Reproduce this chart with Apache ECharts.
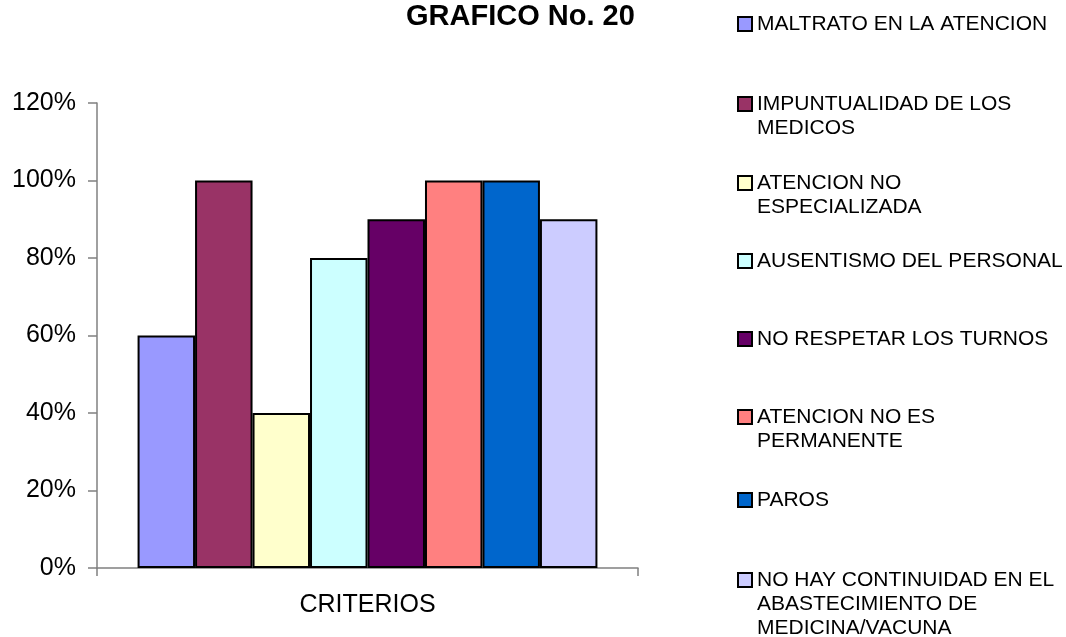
<!DOCTYPE html>
<html>
<head>
<meta charset="utf-8">
<script src="https://cdn.jsdelivr.net/npm/echarts@6/dist/echarts.min.js"></script>
<style>
  html, body { margin: 0; padding: 0; background: #fff; }
  #chart { width: 1066px; height: 637px; }
</style>
</head>
<body>
<div id="chart"></div>
<script>
// datos del grafico
const categories = ['CRITERIOS'];
const seriesNames = [
  'MALTRATO EN LA ATENCION',
  'IMPUNTUALIDAD DE LOS MEDICOS',
  'ATENCION NO ESPECIALIZADA',
  'AUSENTISMO DEL PERSONAL',
  'NO RESPETAR LOS TURNOS',
  'ATENCION NO ES PERMANENTE',
  'PAROS',
  'NO HAY CONTINUIDAD EN EL ABASTECIMIENTO DE MEDICINA/VACUNA'
];
const seriesValues = [60, 100, 40, 80, 90, 100, 100, 90];
// texto de la leyenda partido en lineas
const legendLines = [
  ['MALTRATO EN LA ATENCION'],
  ['IMPUNTUALIDAD DE LOS', 'MEDICOS'],
  ['ATENCION NO', 'ESPECIALIZADA'],
  ['AUSENTISMO DEL PERSONAL'],
  ['NO RESPETAR LOS TURNOS'],
  ['ATENCION NO ES', 'PERMANENTE'],
  ['PAROS'],
  ['NO HAY CONTINUIDAD EN EL', 'ABASTECIMIENTO DE', 'MEDICINA/VACUNA']
];

const colors = ['#9999FF', '#993366', '#FFFFCC', '#CCFFFF', '#660066', '#FF8080', '#0066CC', '#CCCCFF'];
const legendCenters = [24, 104, 183, 261, 339, 417, 500, 580];
const LH = 24;

let chart = echarts.init(document.getElementById('chart'));

//una leyenda por serie, el icono alineado con la primera linea
let legends = seriesNames.map((name, i) => {
  let n = legendLines[i].length;
  return {
    data: [name],
    orient: 'vertical',
    left: 737,
    top: legendCenters[i] - (2 * n - 1) * LH / 2,
    padding: 0,
    itemWidth: 14,
    itemHeight: 14,
    selectedMode: false,
    icon: 'rect',
    itemStyle: { borderColor: '#000', borderWidth: 2 },
    formatter: () => ' \n'.repeat(n - 1) + legendLines[i].join('\n'),
    textStyle: {
      fontFamily: 'Liberation Sans, Arial, sans-serif',
      fontSize: 21,
      lineHeight: LH,
      color: '#000'
    }
  };
});

let option = {
  animation: false,
  backgroundColor: '#fff',
  color: colors,
  title: {
    text: 'GRAFICO No. 20',
    left: 406,
    top: 2,
    padding: 0,
    textStyle: {
      fontFamily: 'Liberation Sans, Arial, sans-serif',
      fontSize: 29,
      fontWeight: 'bold',
      color: '#000'
    }
  },
  legend: legends,
  grid: {
    left: 97,
    right: 428,
    top: 103,
    bottom: 69,
    containLabel: false
  },
  xAxis: {
    type: 'category',
    data: categories,
    axisLine: { lineStyle: { color: '#808080', width: 1.5 } },
    axisTick: { show: true, length: 8, lineStyle: { color: '#808080', width: 1.5 } },
    axisLabel: {
      margin: 25,
      fontFamily: 'Liberation Sans, Arial, sans-serif',
      fontSize: 25,
      color: '#000'
    }
  },
  yAxis: {
    type: 'value',
    min: 0,
    max: 120,
    interval: 20,
    splitLine: { show: false },
    axisLine: { show: true, lineStyle: { color: '#808080', width: 1.5 } },
    axisTick: { show: true, length: 9, lineStyle: { color: '#808080', width: 1.5 } },
    axisLabel: {
      formatter: '{value}%',
      margin: 21,
      fontFamily: 'Liberation Sans, Arial, sans-serif',
      fontSize: 25,
      color: '#000'
    }
  },
  series: seriesNames.map((name, i) => ({
    name: name,
    type: 'bar',
    data: [seriesValues[i]],
    barGap: '0%',
    barCategoryGap: '15%',
    itemStyle: { color: colors[i], borderColor: '#000', borderWidth: 2 }
  }))
};

option && chart.setOption(option);
</script>
</body>
</html>
